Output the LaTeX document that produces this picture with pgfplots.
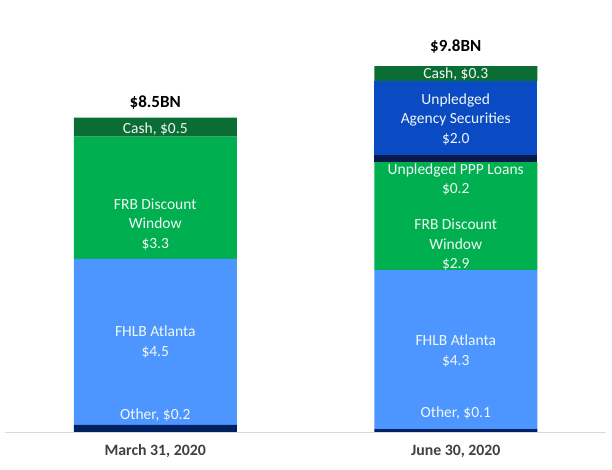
\documentclass[border=0pt]{standalone}
\usepackage{pgfplots}
\pgfplotsset{compat=1.18}
\usepackage{fontspec}
\setmainfont{Carlito}
\definecolor{navy}{HTML}{002060}
\definecolor{navystrip}{HTML}{0A1A4A}
\definecolor{lblue}{HTML}{4D96FF}
\definecolor{green}{HTML}{00B050}
\definecolor{dgreen}{HTML}{0A6E34}
\definecolor{ablue}{HTML}{0A4BC4}
\definecolor{linegray}{HTML}{D9D9D9}
\definecolor{labgray}{HTML}{404040}
\definecolor{lbtxt}{HTML}{F2F7F4}
\tikzset{lab/.style={text=lbtxt, align=center, font=\fontsize{15.5}{19.5}\selectfont, inner sep=0pt},
         tot/.style={text=black, font=\bfseries\fontsize{17}{20}\selectfont, inner sep=0pt}}
\begin{document}
\begin{tikzpicture}
\useasboundingbox (0,0) rectangle (612pt,470pt);
\begin{axis}[
  at={(5pt,38pt)}, anchor=south west,
  scale only axis, width=601pt, height=406.8pt,
  xmin=-0.5, xmax=1.5, ymin=0, ymax=11,
  ybar stacked, bar width=163pt,
  axis y line=none, axis x line=bottom,
  x axis line style={-, draw=linegray, line width=0.9pt},
  xtick={0,1}, xticklabels={{March 31, 2020},{June 30, 2020}},
  major tick length=0pt,
  xticklabel style={anchor=center, yshift=-19pt, text=labgray, font=\bfseries\fontsize{15.8}{18}\selectfont},
  clip=false,
  every axis plot/.append style={draw=none},
]
% Other
\addplot[fill=navy] coordinates {(0,0.19) (1,0.08)};
% FHLB Atlanta
\addplot[fill=lblue] coordinates {(0,4.49) (1,4.30)};
% FRB Discount Window
\addplot[fill=green] coordinates {(0,3.31) (1,2.92)};
% Unpledged PPP Loans
\addplot[fill=navystrip] coordinates {(0,0) (1,0.19)};
% Unpledged Agency Securities
\addplot[fill=ablue] coordinates {(0,0) (1,2.00)};
% Cash
\addplot[fill=dgreen] coordinates {(0,0.51) (1,0.40)};

\coordinate (t1) at (axis cs:0,8.9);
\coordinate (a1) at (axis cs:0,8.19);
\coordinate (b1) at (axis cs:0,5.62);
\coordinate (c1) at (axis cs:0,2.43);
\coordinate (d1) at (axis cs:0,0.46);
\coordinate (t2) at (axis cs:1,10.43);
\coordinate (a2) at (axis cs:1,9.68);
\coordinate (b2) at (axis cs:1,8.46);
\coordinate (c2) at (axis cs:1,6.83);
\coordinate (d2) at (axis cs:1,5.06);
\coordinate (e2) at (axis cs:1,2.19);
\coordinate (f2) at (axis cs:1,0.52);
\end{axis}
\node[tot] at (t1) {\$8.5BN};
\node[lab] at (a1) {Cash, \$0.5};
\node[lab] at (b1) {FRB Discount\\Window\\\$3.3};
\node[lab] at (c1) {FHLB Atlanta\\\$4.5};
\node[lab] at (d1) {Other, \$0.2};
\node[tot] at (t2) {\$9.8BN};
\node[lab] at (a2) {Cash, \$0.3};
\node[lab] at (b2) {Unpledged\\Agency Securities\\\$2.0};
\node[lab] at (c2) {Unpledged PPP Loans\\\$0.2};
\node[lab] at (d2) {FRB Discount\\Window\\\$2.9};
\node[lab] at (e2) {FHLB Atlanta\\\$4.3};
\node[lab] at (f2) {Other, \$0.1};
\end{tikzpicture}
\end{document}
